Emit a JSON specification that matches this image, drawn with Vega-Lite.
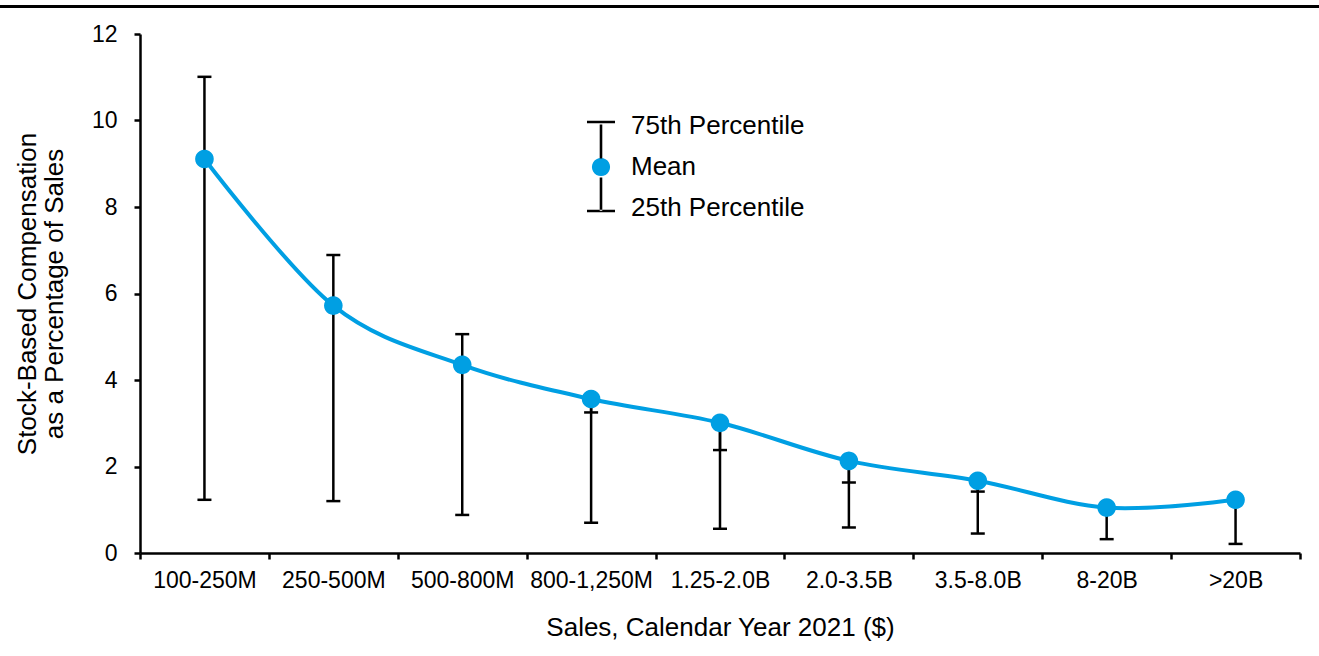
{
  "$schema": "https://vega.github.io/schema/vega-lite/v6.json",
  "background": "white",
  "autosize": "none",
  "padding": {"left": 140, "top": 34, "right": 19, "bottom": 103},
  "width": 1160,
  "height": 519,
  "config": {
    "font": "Liberation Sans",
    "view": {"stroke": null},
    "axis": {
      "domainColor": "black",
      "tickColor": "black",
      "labelColor": "black",
      "titleColor": "black",
      "grid": false,
      "titleFontWeight": "normal",
      "domainWidth": 2.5,
      "tickWidth": 2.5,
      "tickSize": 6
    }
  },
  "data": {
    "values": [
      {"sales": "100-250M", "p25": 1.23, "mean": 9.11, "p75": 11.01},
      {"sales": "250-500M", "p25": 1.20, "mean": 5.72, "p75": 6.89},
      {"sales": "500-800M", "p25": 0.88, "mean": 4.35, "p75": 5.06},
      {"sales": "800-1,250M", "p25": 0.70, "mean": 3.56, "p75": 3.25},
      {"sales": "1.25-2.0B", "p25": 0.56, "mean": 3.01, "p75": 2.38},
      {"sales": "2.0-3.5B", "p25": 0.59, "mean": 2.13, "p75": 1.63},
      {"sales": "3.5-8.0B", "p25": 0.45, "mean": 1.67, "p75": 1.42},
      {"sales": "8-20B", "p25": 0.32, "mean": 1.05, "p75": 1.10},
      {"sales": ">20B", "p25": 0.21, "mean": 1.23, "p75": 1.27}
    ]
  },
  "encoding": {
    "x": {
      "field": "sales",
      "type": "nominal",
      "sort": null,
      "title": "Sales, Calendar Year 2021 ($)",
      "scale": {"paddingInner": 0, "paddingOuter": 0},
      "axis": {
        "labelAngle": 0,
        "labelFontSize": 23,
        "labelPadding": 10,
        "titleFontSize": 26,
        "titlePadding": 22,
        "tickBand": "extent"
      }
    }
  },
  "layer": [
    {
      "mark": {"type": "rule", "color": "black", "strokeWidth": 2.5},
      "encoding": {
        "y": {
          "field": "p25",
          "type": "quantitative",
          "title": ["Stock-Based Compensation", "as a Percentage of Sales"],
          "scale": {"domain": [0, 12], "nice": false},
          "axis": {
            "values": [0, 2, 4, 6, 8, 10, 12],
            "labelFontSize": 23,
            "labelPadding": 17,
            "titleFontSize": 26,
            "titleLineHeight": 27,
            "titlePadding": 24
          }
        },
        "y2": {"field": "mean"},
        "stroke": {
          "field": "p25",
          "type": "quantitative",
          "scale": {"range": ["black", "black"]},
          "legend": {
            "title": null,
            "orient": "none",
            "legendX": -140,
            "legendY": -29,
            "direction": "horizontal",
            "gradientLength": 1319,
            "gradientThickness": 3,
            "gradientStrokeWidth": 0,
            "labelOpacity": 0,
            "padding": 0
          }
        }
      }
    },
    {
      "mark": {"type": "rule", "color": "black", "strokeWidth": 2.5},
      "encoding": {
        "y": {"field": "mean", "type": "quantitative", "title": ["Stock-Based Compensation", "as a Percentage of Sales"]},
        "y2": {"field": "p75"}
      }
    },
    {
      "mark": {"type": "tick", "color": "black", "thickness": 2.5, "size": 14, "opacity": 1},
      "encoding": {
        "y": {"field": "p75", "type": "quantitative", "title": ["Stock-Based Compensation", "as a Percentage of Sales"]}
      }
    },
    {
      "mark": {"type": "tick", "color": "black", "thickness": 2.5, "size": 14, "opacity": 1},
      "encoding": {
        "y": {"field": "p25", "type": "quantitative", "title": ["Stock-Based Compensation", "as a Percentage of Sales"]}
      }
    },
    {
      "mark": {"type": "line", "color": "#009FE3", "strokeWidth": 4, "interpolate": "cardinal"},
      "encoding": {
        "y": {"field": "mean", "type": "quantitative", "title": ["Stock-Based Compensation", "as a Percentage of Sales"]}
      }
    },
    {
      "mark": {"type": "point", "filled": true, "size": 340, "opacity": 1},
      "encoding": {
        "y": {"field": "mean", "type": "quantitative", "title": ["Stock-Based Compensation", "as a Percentage of Sales"]},
        "color": {
          "datum": "Mean",
          "type": "nominal",
          "scale": {
            "domain": ["75th Percentile", "Mean", "25th Percentile"],
            "range": ["black", "#009FE3", "black"]
          },
          "legend": {
            "title": null,
            "orient": "none",
            "legendX": 448,
            "legendY": 79,
            "symbolSize": 324,
            "labelFontSize": 26,
            "labelColor": "black",
            "labelLimit": 400,
            "labelOffset": 17,
            "rowPadding": -100,
            "padding": 0,
            "symbolOpacity": 1
          }
        },
        "shape": {
          "datum": "Mean",
          "type": "nominal",
          "scale": {
            "domain": ["75th Percentile", "Mean", "25th Percentile"],
            "range": [
              "M0,2.667L0,2.667ZM-1.556,-0.589H1.556V-0.3H-1.556Z",
              "M0,2.667L0,2.667ZM1.01,0L0.976,0.261L0.875,0.505L0.714,0.714L0.505,0.875L0.261,0.976L0,1.01L-0.261,0.976L-0.505,0.875L-0.714,0.714L-0.875,0.505L-0.976,0.261L-1.01,0L-0.976,-0.261L-0.875,-0.505L-0.714,-0.714L-0.505,-0.875L-0.261,-0.976L0,-1.01L0.261,-0.976L0.505,-0.875L0.714,-0.714L0.875,-0.505L0.976,-0.261Z",
              "M-1.556,0.478H1.556V0.189H-1.556ZM-0.144,0.3V-3.389H0.144V0.3ZM-0.144,-5.5V-9.278H0.144V-5.5Z"
            ]
          },
          "legend": {
            "title": null,
            "orient": "none",
            "legendX": 448,
            "legendY": 79,
            "symbolSize": 324,
            "labelFontSize": 26,
            "labelColor": "black",
            "labelLimit": 400,
            "labelOffset": 17,
            "rowPadding": -100,
            "padding": 0,
            "symbolOpacity": 1
          }
        }
      }
    }
  ]
}
